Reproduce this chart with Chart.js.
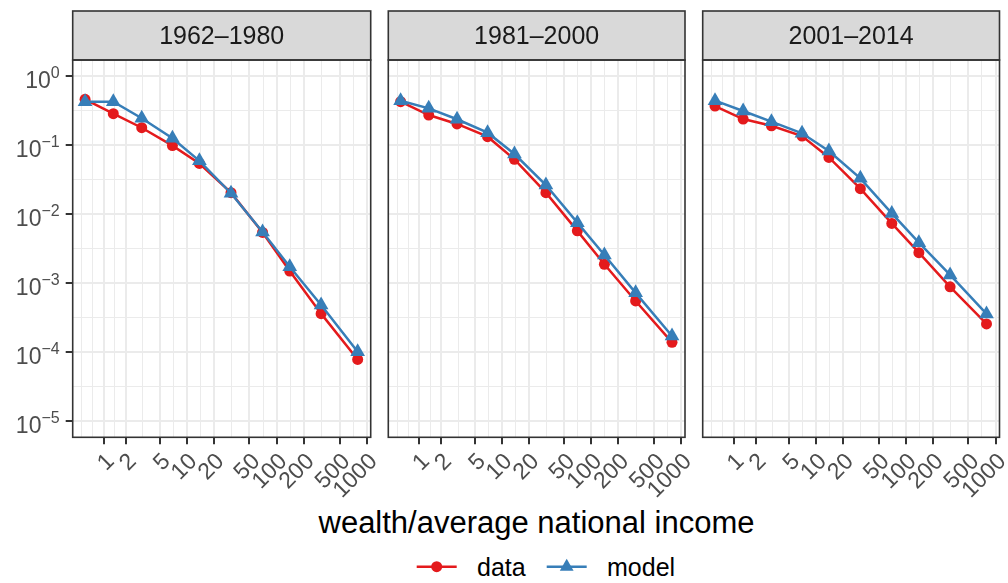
<!DOCTYPE html>
<html>
<head>
<meta charset="utf-8">
<script src="https://cdn.jsdelivr.net/npm/chart.js@4.4.1/dist/chart.umd.min.js"></script>
<style>
  body { margin: 0; background: #fff; font-family: "Liberation Sans", Arial, sans-serif; }
  #wrap { position: relative; width: 1008px; height: 583px; overflow: hidden; background: #fff; }
  canvas { position: absolute; top: 0; }
  #xtitle { position: absolute; left: 73px; width: 927px; top: 507px; text-align: center;
            font-size: 31px; line-height: 31px; color: #000; }
  .leg { position: absolute; top: 555px; font-size: 25px; line-height: 25px; color: #000; }
  #keys { position: absolute; left: 400px; top: 550px; }
</style>
</head>
<body>
<div id="wrap">
  <canvas id="p0"></canvas>
  <canvas id="p1"></canvas>
  <canvas id="p2"></canvas>
  <div id="xtitle">wealth/average national income</div>
  <svg id="keys" width="200" height="32">
    <line x1="16.7" y1="16.7" x2="56.7" y2="16.7" stroke="#E41A1C" stroke-width="2.5"/>
    <circle cx="36.7" cy="16.7" r="5.5" fill="#E41A1C"/>
    <line x1="146.7" y1="16.7" x2="186.7" y2="16.7" stroke="#377EB8" stroke-width="2.5"/>
    <polygon points="166.7,8.7 173.6,20.7 159.8,20.7" fill="#377EB8"/>
  </svg>
  <div class="leg" style="left:477px">data</div>
  <div class="leg" style="left:607px">model</div>
</div>
<script>
// x: wealth / average national income (same groups in every panel)
const wealth = [0.416, 1.38, 3.11, 6.95, 13.9, 31.2, 69.9, 140, 312, 794];
const xTickVals = [1, 2, 5, 10, 20, 50, 100, 200, 500, 1000];
const xTickLabels = ['1', '2', '5', '10', '20', '50', '100', '200', '500', '1000'];
const yExponents = [0, -1, -2, -3, -4, -5];
const periods = ['1962\u20131980', '1981\u20132000', '2001\u20132014'];

// share of population above wealth level
const data1962 = [0.46, 0.284, 0.178, 0.098, 0.054, 0.0204, 0.0054, 0.00149, 0.00036, 0.000078];
const model1962 = [0.424, 0.424, 0.244, 0.125, 0.059, 0.020, 0.0055, 0.00172, 0.00048, 0.000101];
const data1981 = [0.424, 0.272, 0.202, 0.132, 0.062, 0.0204, 0.0057, 0.00187, 0.00055, 0.000138];
const model1981 = [0.439, 0.340, 0.236, 0.151, 0.074, 0.0263, 0.0075, 0.00255, 0.00072, 0.000171];
const data2001 = [0.367, 0.238, 0.190, 0.135, 0.066, 0.0233, 0.0073, 0.00275, 0.00088, 0.000255];
const model2001 = [0.439, 0.311, 0.218, 0.148, 0.082, 0.0329, 0.0102, 0.00384, 0.00131, 0.000356];

const dataSeries = [data1962, data1981, data2001];
const modelSeries = [model1962, model1981, model2001];

const X_MIN = 0.089, X_MAX = 1108;
const Y_MIN = 5.81e-6, Y_MAX = 1.706;

// minor grid lines sit halfway between majors on the transformed axis
const asMid = (a, b) => Math.sinh((Math.asinh(a) + Math.asinh(b)) / 2);
const xVirtual = Math.sinh(2 * Math.asinh(xTickVals[0]) - Math.asinh(xTickVals[1]));
const xb = [xVirtual].concat(xTickVals);
let xGridVals = [xVirtual].concat(xTickVals);
for (let i = 0; i < xb.length - 1; i++) xGridVals.push(asMid(xb[i], xb[i + 1]));
xGridVals.sort((a, b) => a - b);

let yGridVals = [];
yExponents.forEach(e => { yGridVals.push(Math.pow(10, e)); yGridVals.push(Math.pow(10, e - 0.5)); });
yGridVals = yGridVals.filter(v => v >= Y_MIN && v <= Y_MAX).sort((a, b) => a - b);

const isMajorX = v => xTickVals.indexOf(v) > -1;
const isMajorY = v => Math.abs(Math.log10(v) - Math.round(Math.log10(v))) < 1e-6;

// pseudo-log (asinh) axis
class AsinhScale extends Chart.LinearScale {
  buildTicks() {
    return xGridVals.filter(v => v >= this.min && v <= this.max).map(v => ({ value: v }));
  }
  configure() {
    super.configure();
    this._a0 = Math.asinh(this.min);
    this._a1 = Math.asinh(this.max);
  }
  getPixelForValue(value) {
    return this.getPixelForDecimal((Math.asinh(value) - this._a0) / (this._a1 - this._a0));
  }
  getValueForPixel(pixel) {
    return Math.sinh(this._a0 + this.getDecimalForPixel(pixel) * (this._a1 - this._a0));
  }
}
AsinhScale.id = 'asinh';
AsinhScale.defaults = {};
Chart.register(AsinhScale);

const panelDecor = {
  id: 'panelDecor',
  afterDraw(chart, args, opts) {
    const ctx = chart.ctx, a = chart.chartArea;
    ctx.save();
    ctx.fillStyle = '#D9D9D9';
    ctx.fillRect(a.left, 11, a.right - a.left, a.top - 11);
    ctx.strokeStyle = '#333333';
    ctx.lineWidth = 1.6;
    ctx.strokeRect(a.left, 11, a.right - a.left, a.top - 11);
    ctx.strokeRect(a.left, a.top, a.right - a.left, a.bottom - a.top);
    ctx.fillStyle = '#1A1A1A';
    ctx.font = '25px "Liberation Sans", Arial, sans-serif';
    ctx.textAlign = 'center';
    ctx.textBaseline = 'alphabetic';
    ctx.fillText(opts.title, (a.left + a.right) / 2, 44.3);
    if (opts.yLabels) {
      const ys = chart.scales.y;
      ctx.fillStyle = '#4D4D4D';
      ctx.textAlign = 'right';
      yExponents.forEach(e => {
        const py = ys.getPixelForValue(Math.pow(10, e));
        const ex = e === 0 ? '0' : '\u2212' + Math.abs(e);
        ctx.font = '16px "Liberation Sans", Arial, sans-serif';
        const right = a.left - 13;
        ctx.fillText(ex, right, py + 1.7);
        const w = ctx.measureText(ex).width;
        ctx.font = '23px "Liberation Sans", Arial, sans-serif';
        ctx.fillText('10', right - w, py + 12.3);
      });
    }
    ctx.restore();
  }
};

const panels = [
  { left: 72.7, right: 370.7 },
  { left: 388.3, right: 685 },
  { left: 702.7, right: 1000 }
];
const H = 500;

panels.forEach((p, i) => {
  const cv = document.getElementById('p' + i);
  const x0 = i === 0 ? 0 : Math.floor(p.left - 10);
  const x1 = Math.min(1008, Math.ceil(p.right + 10));
  cv.width = x1 - x0;
  cv.height = H;
  cv.style.left = x0 + 'px';
  const yAxisW = p.left - x0;

  new Chart(cv, {
    type: 'line',
    data: {
      datasets: [
        {
          label: 'model',
          data: wealth.map((w, k) => ({ x: w, y: modelSeries[i][k] })),
          borderColor: '#377EB8',
          backgroundColor: '#377EB8',
          borderWidth: 2.5,
          pointStyle: 'triangle',
          pointRadius: 8.5,
          pointBorderWidth: 0,
          order: 0
        },
        {
          label: 'data',
          data: wealth.map((w, k) => ({ x: w, y: dataSeries[i][k] })),
          borderColor: '#E41A1C',
          backgroundColor: '#E41A1C',
          borderWidth: 2.5,
          pointStyle: 'circle',
          pointRadius: 5.5,
          pointBorderWidth: 0,
          order: 1
        }
      ]
    },
    options: {
      responsive: false,
      animation: false,
      layout: { padding: { left: 0, right: x1 - p.right, top: 60, bottom: 0 } },
      plugins: {
        legend: { display: false },
        tooltip: { enabled: false },
        panelDecor: { title: periods[i], yLabels: i === 0 }
      },
      scales: {
        x: {
          type: 'asinh',
          min: X_MIN,
          max: X_MAX,
          border: { display: false },
          grid: {
            color: '#EBEBEB',
            lineWidth: c => (c.tick && isMajorX(c.tick.value)) ? 2 : 1,
            tickColor: c => (c.tick && isMajorX(c.tick.value)) ? '#333333' : 'rgba(0,0,0,0)',
            tickWidth: 2,
            tickLength: 7
          },
          ticks: {
            autoSkip: false,
            minRotation: 45,
            maxRotation: 45,
            padding: 4,
            labelOffset: 7,
            color: '#4D4D4D',
            font: { family: '"Liberation Sans", Arial, sans-serif', size: 23 },
            callback: v => {
              const k = xTickVals.indexOf(v);
              return k > -1 ? xTickLabels[k] : '';
            }
          },
          afterFit: s => { s.height = H - 437.3; s.paddingLeft = 0; s.paddingRight = 0; }
        },
        y: {
          type: 'logarithmic',
          min: Y_MIN,
          max: Y_MAX,
          border: { display: false },
          afterBuildTicks: s => { s.ticks = yGridVals.map(v => ({ value: v })); },
          grid: {
            color: '#EBEBEB',
            lineWidth: c => (c.tick && isMajorY(c.tick.value)) ? 2 : 1,
            tickColor: c => (c.tick && isMajorY(c.tick.value)) ? '#333333' : 'rgba(0,0,0,0)',
            tickWidth: 2,
            tickLength: 7,
            drawTicks: i === 0
          },
          ticks: { callback: () => '' },
          afterFit: s => { s.width = yAxisW; s.paddingTop = 0; s.paddingBottom = 0; }
        }
      }
    },
    plugins: [panelDecor]
  });
});
</script>
</body>
</html>
